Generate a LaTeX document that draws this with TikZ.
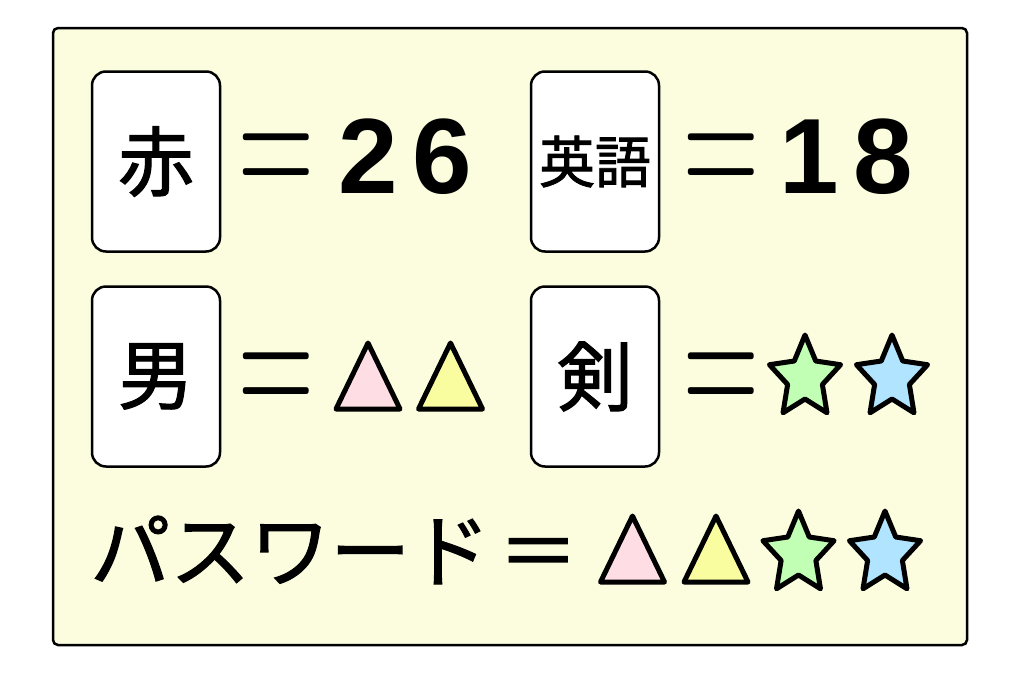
\documentclass[tikz,border=0pt]{standalone}
\usepackage{fontspec}
\setmainfont{Noto Sans CJK JP}
\newfontfamily\kanafont{Noto Sans CJK JP}[FakeBold=1.5]
\newfontfamily\digitfont{Liberation Sans Bold}[LetterSpace=14]
\definecolor{panelyellow}{RGB}{251,253,222}
\definecolor{tripink}{RGB}{255,221,228}
\definecolor{triyellow}{RGB}{250,252,160}
\definecolor{stargreen}{RGB}{192,255,180}
\definecolor{starblue}{RGB}{176,228,255}
\newcommand{\talleq}{\scalebox{1.02}[1.9]{=}}
\tikzset{panel/.style={draw, line width=2.5pt, fill=panelyellow, rounded corners=5pt,
        minimum width=914pt, minimum height=617pt, inner sep=0pt},
    card/.style={draw, line width=2.5pt, fill=white, rounded corners=14pt,
        minimum width=128pt, minimum height=180pt, inner sep=0pt},
    bigkanji/.style={font=\kanafont\fontsize{76}{76}\selectfont},
    smallkanji/.style={font=\kanafont\fontsize{56}{56}\selectfont},
    eqsign/.style={inner sep=0pt, font=\fontfamily{lmr}\fontsize{103}{103}\selectfont},
    number/.style={inner sep=0pt, font=\digitfont\fontsize{107}{107}\selectfont},
    shapeline/.style={draw, line width=5pt, line join=round},
    tripic/.pic={\path[shapeline, pic actions] (0,-33) -- (32,33) -- (-32,33) -- cycle;},
    starpic/.pic={\path[shapeline, pic actions, xscale=0.87]
        (-90:43) -- (-54:21) -- (-18:43) -- (18:21) -- (54:43) -- (90:21)
        -- (126:43) -- (162:21) -- (198:43) -- (234:21) -- cycle;}}

\begin{document}
\begin{tikzpicture}[x=1pt, y=-1pt]
    \useasboundingbox (0,0) rectangle (1020,691);
    \fill[white] (0,0) rectangle (1020,691);
    \node [panel] (board) at (510,336.5) {};

    % top row
    \node [card, bigkanji] (aka) at (156,161.5) {赤};
    \node [eqsign] (eq1) at (276.5,168.5) {\talleq};
    \node [number] (n26) at (405,156.5) {26};
    \node [card, smallkanji] (eigo) at (595,161.5) {英語};
    \node [eqsign] (eq2) at (721,168.5) {\talleq};
    \node [number] (n18) at (846,156.5) {18};

    % middle row
    \node [card, bigkanji] (otoko) at (156,376.5) {男};
    \node [eqsign] (eq3) at (276.5,387.5) {\talleq};
    \pic [fill=tripink] (t1) at (368,376) {tripic};
    \pic [fill=triyellow] (t2) at (450.5,376) {tripic};
    \node [card, bigkanji] (ken) at (595,376.5) {剣};
    \node [eqsign] (eq4) at (721,387.5) {\talleq};
    \pic [fill=stargreen] (s1) at (805,378) {starpic};
    \pic [fill=starblue] (s2) at (892,378) {starpic};

    % bottom row
    \node [inner sep=0pt, anchor=west, font=\kanafont\fontsize{80}{80}\selectfont] (pw) at (90,550) {パスワード\kern8pt＝};
    \pic [fill=tripink] (t3) at (632.5,549) {tripic};
    \pic [fill=triyellow] (t4) at (716,549) {tripic};
    \pic [fill=stargreen] (s3) at (798.5,554) {starpic};
    \pic [fill=starblue] (s4) at (885,554) {starpic};
\end{tikzpicture}
\end{document}
